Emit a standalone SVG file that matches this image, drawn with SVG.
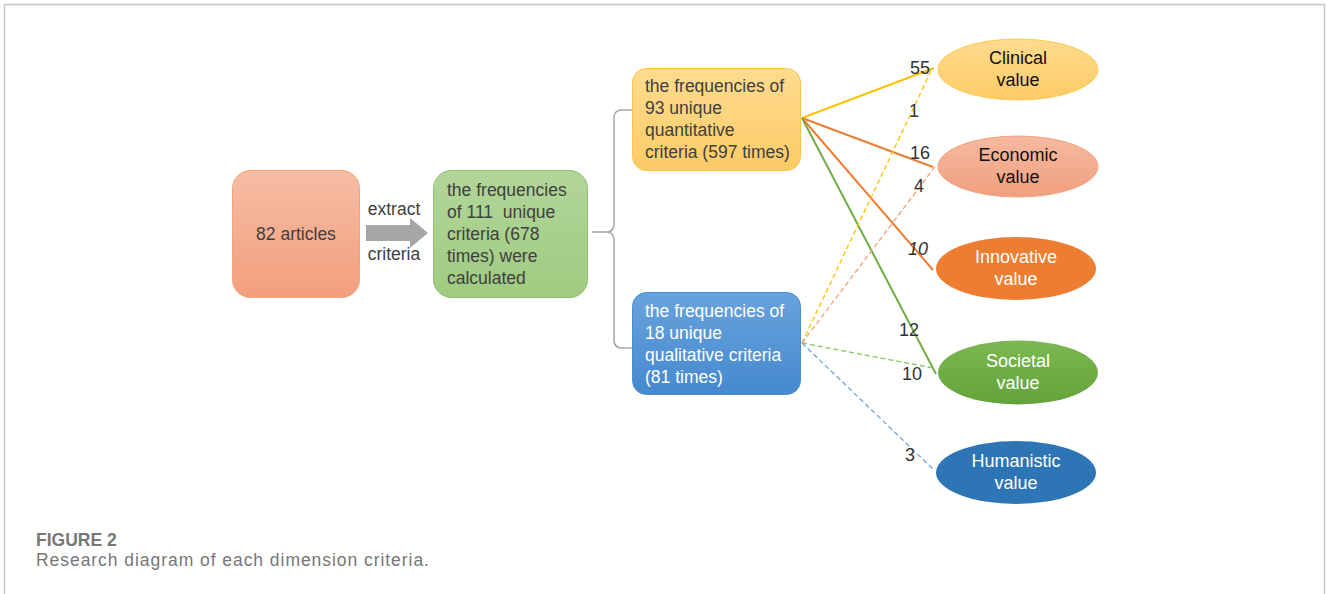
<svg xmlns="http://www.w3.org/2000/svg" width="1328" height="594" viewBox="0 0 1328 594">
<defs>
<linearGradient id="gOr" x1="0" y1="0" x2="0" y2="1"><stop offset="0" stop-color="#f6bca4"/><stop offset="1" stop-color="#f29f7c"/></linearGradient>
<linearGradient id="gGr" x1="0" y1="0" x2="0" y2="1"><stop offset="0" stop-color="#b2d69a"/><stop offset="1" stop-color="#9fcb80"/></linearGradient>
<linearGradient id="gYe" x1="0" y1="0" x2="0" y2="1"><stop offset="0" stop-color="#ffdb8f"/><stop offset="1" stop-color="#fdcb66"/></linearGradient>
<linearGradient id="gBl" x1="0" y1="0" x2="0" y2="1"><stop offset="0" stop-color="#68a3dc"/><stop offset="1" stop-color="#4589cf"/></linearGradient>
<linearGradient id="gEc" x1="0" y1="0" x2="0" y2="1"><stop offset="0" stop-color="#f5b9a0"/><stop offset="1" stop-color="#f0a07f"/></linearGradient>
<linearGradient id="gSo" x1="0" y1="0" x2="0" y2="1"><stop offset="0" stop-color="#7cb851"/><stop offset="1" stop-color="#62a33a"/></linearGradient>
</defs>
<style>
text{font-family:"Liberation Sans",Arial,sans-serif;font-size:17.5px;fill:#404040}
.w{fill:#ffffff}
.d{fill:#111111}
.e{font-size:18px}
.c{text-anchor:middle}
.n{font-size:18px;fill:#333}
.ln{fill:none;stroke-width:2}
.ds{fill:none;stroke-width:1.3;stroke-dasharray:5 3}
.cap{fill:#777}
</style>
<path d="M4.5,594 V4.5 H1324.5 V594" fill="none" stroke="#c8c8c8" stroke-width="1.5"/>

<g id="connectors">
<path d="M366,225 H410 V218 L428,233 L410,248 V241 H366 Z" fill="#a6a6a6"/>
<path d="M592,232 H606 Q614,232 614,224 V118 Q614,110 622,110 H632 M606,232 Q614,232 614,240 V340 Q614,348 622,348 H632" fill="none" stroke="#a6a6a6" stroke-width="1.5"/>
<line class="ln" x1="802" y1="118" x2="934" y2="68" stroke="#ffc000"/>
<line class="ln" x1="802" y1="118" x2="933" y2="167" stroke="#ed7d31"/>
<line class="ln" x1="802" y1="118" x2="933" y2="270" stroke="#ed7d31"/>
<line class="ln" x1="802" y1="118" x2="936" y2="374" stroke="#70ad47"/>
<line class="ds" x1="802" y1="343" x2="932" y2="69" stroke="#ffc000"/>
<line class="ds" x1="802" y1="343" x2="937" y2="164" stroke="#f4a070"/>
<line class="ds" x1="802" y1="343" x2="933" y2="368" stroke="#8cc56a"/>
<line class="ds" x1="802" y1="343" x2="934" y2="470" stroke="#6fa8dc"/>
<text class="n" x="910" y="74">55</text>
<text class="n" x="909" y="117">1</text>
<text class="n" x="910" y="159">16</text>
<text class="n" x="914" y="192">4</text>
<text class="n" x="908" y="255" font-style="italic">10</text>
<text class="n" x="899" y="336">12</text>
<text class="n" x="902" y="380">10</text>
<text class="n" x="905" y="461">3</text>
<text x="394" y="215" class="c">extract</text>
<text x="394" y="260" class="c">criteria</text>
</g>

<g id="articles">
<rect x="232.5" y="170.5" width="127" height="127" rx="18" fill="url(#gOr)" stroke="#f2a27c"/>
<text x="296" y="240" class="c">82 articles</text>
</g>

<g id="total">
<rect x="433.5" y="170.5" width="154" height="127" rx="18" fill="url(#gGr)" stroke="#8fc06e"/>
<text x="447" y="196">the frequencies</text>
<text x="447" y="218" xml:space="preserve">of 111  unique</text>
<text x="447" y="240">criteria (678</text>
<text x="447" y="262">times) were</text>
<text x="447" y="284">calculated</text>
</g>

<g id="quantitative">
<rect x="632.5" y="68.5" width="168" height="102" rx="14" fill="url(#gYe)" stroke="#fbc34a"/>
<text x="645" y="92">the frequencies of</text>
<text x="645" y="114">93 unique</text>
<text x="645" y="136">quantitative</text>
<text x="645" y="158">criteria (597 times)</text>
</g>

<g id="qualitative">
<rect x="632.5" y="292.5" width="168" height="102" rx="14" fill="url(#gBl)" stroke="#4a8ccf"/>
<text class="w" x="645" y="317">the frequencies of</text>
<text class="w" x="645" y="339">18 unique</text>
<text class="w" x="645" y="361">qualitative criteria</text>
<text class="w" x="645" y="383">(81 times)</text>
</g>

<g id="clinical">
<ellipse cx="1018" cy="69.5" rx="80" ry="30.5" fill="url(#gYe)" stroke="#ffc94d"/>
<text class="d c e" x="1018" y="64">Clinical</text>
<text class="d c e" x="1018" y="86">value</text>
</g>

<g id="economic">
<ellipse cx="1018" cy="166.5" rx="80" ry="30.5" fill="url(#gEc)" stroke="#f4a27e"/>
<text class="d c e" x="1018" y="161">Economic</text>
<text class="d c e" x="1018" y="183">value</text>
</g>

<g id="innovative">
<ellipse cx="1016" cy="268.5" rx="80" ry="31.5" fill="#ed7d31"/>
<text class="w c e" x="1016" y="263">Innovative</text>
<text class="w c e" x="1016" y="285">value</text>
</g>

<g id="societal">
<ellipse cx="1018" cy="372.5" rx="80" ry="32" fill="url(#gSo)"/>
<text class="w c e" x="1018" y="367">Societal</text>
<text class="w c e" x="1018" y="389">value</text>
</g>

<g id="humanistic">
<ellipse cx="1016" cy="472.5" rx="80" ry="31.5" fill="#2e75b6"/>
<text class="w c e" x="1016" y="467">Humanistic</text>
<text class="w c e" x="1016" y="489">value</text>
</g>

<text class="cap" x="36" y="546" font-size="13.5" font-weight="bold" fill="#6a6a6a">FIGURE 2</text>
<text class="cap" x="36" y="566" font-size="17" letter-spacing="0.95">Research diagram of each dimension criteria.</text>
</svg>
